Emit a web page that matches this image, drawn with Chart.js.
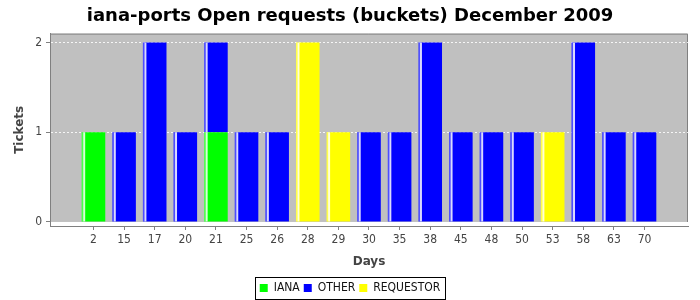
<!DOCTYPE html>
<html lang="en">
<head>
    <meta charset="UTF-8">
    <title>iana-ports Open requests (buckets) December 2009</title>
    <script src="https://cdn.jsdelivr.net/npm/chart.js@4.4.0/dist/chart.umd.min.js"></script>
    <style>
        body {
            margin: 0;
            background: #ffffff;
        }
    </style>
</head>
<body>

<canvas id="myChart" width="700" height="300"></canvas>

<script>
    // days with open tickets, and ticket counts per requester type
    const days = ['2', '15', '17', '20', '21', '25', '26', '28', '29', '30', '35', '38', '45', '48', '50', '53', '58', '63', '70']
    const iana = [1, 0, 0, 0, 1, 0, 0, 0, 0, 0, 0, 0, 0, 0, 0, 0, 0, 0, 0]
    const other = [0, 1, 2, 1, 1, 1, 1, 0, 0, 1, 1, 2, 1, 1, 1, 0, 2, 1, 1]
    const requestor = [0, 0, 0, 0, 0, 0, 0, 2, 1, 0, 0, 0, 0, 0, 0, 1, 0, 0, 0]
    const yTicks = [0, 1, 2]

    const FONT = "'DejaVu Sans Condensed', 'DejaVu Sans', sans-serif"
    const toPoints = arr => arr.map((v, i) => ({x: i, y: v}))

    // gray plot background + border, stops at y=0 like the original
    const plotBackground = {
        id: 'plotBackground',
        beforeDraw(chart) {
            const {ctx, chartArea: a, scales: {y}} = chart
            const bottom = y.getPixelForValue(0)
            ctx.save()
            ctx.fillStyle = '#c0c0c0'
            ctx.fillRect(a.left, a.top, a.right - a.left, bottom - a.top)
            ctx.strokeStyle = '#808080'
            ctx.lineWidth = 1
            ctx.beginPath()
            ctx.moveTo(a.left, a.top + 0.5)
            ctx.lineTo(a.right - 0.5, a.top + 0.5)
            ctx.lineTo(a.right - 0.5, bottom)
            ctx.stroke()
            ctx.restore()
        }
    }

    // the thin light stripe near the left edge of every bar
    const barGloss = {
        id: 'barGloss',
        afterDatasetsDraw(chart) {
            const ctx = chart.ctx
            ctx.save()
            chart.data.datasets.forEach((ds, di) => {
                const meta = chart.getDatasetMeta(di)
                meta.data.forEach((el, i) => {
                    if (!ds.data[i].y) return
                    const {x, y, base, width} = el.getProps(['x', 'y', 'base', 'width'], true)
                    const left = x - width / 2
                    const top = Math.min(y, base)
                    const h = Math.abs(base - y)
                    ctx.fillStyle = 'rgba(255,255,255,0.3)'
                    ctx.fillRect(left, top, 1.5, h)
                    ctx.fillStyle = 'rgba(255,255,255,0.85)'
                    ctx.fillRect(left + 1.5, top, 2, h)
                })
            })
            ctx.restore()
        }
    }

    // black frame round the legend
    const legendFrame = {
        id: 'legendFrame',
        afterDraw(chart) {
            const boxes = chart.legend.legendHitBoxes
            if (!boxes || !boxes.length) return
            const left = Math.min(...boxes.map(b => b.left)) - 5
            const right = Math.max(...boxes.map(b => b.left + b.width)) + 4
            const top = Math.min(...boxes.map(b => b.top)) - 5
            const bottom = Math.max(...boxes.map(b => b.top + b.height)) + 5
            const ctx = chart.ctx
            ctx.save()
            ctx.strokeStyle = '#000000'
            ctx.lineWidth = 1
            ctx.strokeRect(Math.round(left) + 0.5, Math.round(top) + 0.5, Math.round(right - left), Math.round(bottom - top))
            ctx.restore()
        }
    }

    const ctx = document.getElementById('myChart').getContext('2d')
    const myChart = new Chart(ctx, {
        type: 'bar',
        data: {
            datasets: [
                {label: 'IANA', data: toPoints(iana), backgroundColor: '#00ff00'},
                {label: 'OTHER', data: toPoints(other), backgroundColor: '#0000ff'},
                {label: 'REQUESTOR', data: toPoints(requestor), backgroundColor: '#ffff00'}
            ]
        },
        plugins: [plotBackground, barGloss, legendFrame],
        options: {
            responsive: false,
            animation: false,
            layout: {
                padding: {left: 12, right: 12, top: 0, bottom: -4}
            },
            datasets: {
                bar: {
                    barPercentage: 1,
                    categoryPercentage: 0.77,
                    borderWidth: 0
                }
            },
            plugins: {
                title: {
                    display: true,
                    text: 'iana-ports Open requests (buckets) December 2009',
                    color: '#000000',
                    font: {family: 'DejaVu Sans', size: 18, weight: 'bold'},
                    padding: {top: 6, bottom: 6}
                },
                legend: {
                    position: 'bottom',
                    labels: {
                        boxWidth: 8,
                        boxHeight: 8,
                        padding: 4,
                        color: '#111111',
                        font: {family: FONT, size: 12}
                    }
                },
                tooltip: {enabled: false}
            },
            scales: {
                x: {
                    type: 'linear',
                    stacked: true,
                    offset: false,
                    min: -1.42,
                    max: 19.42,
                    afterBuildTicks: scale => {
                        scale.ticks = days.map((d, i) => ({value: i}))
                    },
                    afterFit: scale => {
                        scale.height = 52
                    },
                    ticks: {
                        autoSkip: false,
                        maxRotation: 0,
                        padding: 3,
                        color: '#444444',
                        font: {family: FONT, size: 12},
                        callback: v => days[v]
                    },
                    grid: {
                        offset: false,
                        drawOnChartArea: false,
                        tickLength: 4,
                        tickColor: '#808080'
                    },
                    border: {color: '#808080'},
                    title: {
                        display: true,
                        text: 'Days',
                        color: '#444444',
                        font: {family: 'DejaVu Sans', size: 12, weight: 'bold'},
                        padding: {top: 4, bottom: 9}
                    }
                },
                y: {
                    stacked: true,
                    min: -0.045,
                    max: 2.1,
                    afterBuildTicks: scale => {
                        scale.ticks = yTicks.map(v => ({value: v}))
                    },
                    afterFit: scale => {
                        scale.width = 38
                    },
                    ticks: {
                        padding: 4,
                        color: '#444444',
                        font: {family: FONT, size: 12}
                    },
                    grid: {
                        color: c => c.tick && c.tick.value === 0 ? 'rgba(0,0,0,0)' : 'rgba(255,255,255,0.85)',
                        tickLength: 4,
                        tickColor: '#808080'
                    },
                    border: {color: '#808080', dash: [2, 2]},
                    title: {
                        display: true,
                        text: 'Tickets',
                        color: '#444444',
                        font: {family: 'DejaVu Sans', size: 12, weight: 'bold'},
                        padding: {top: 1, bottom: 4}
                    }
                }
            }
        }
    });
</script>
</body>
</html>
